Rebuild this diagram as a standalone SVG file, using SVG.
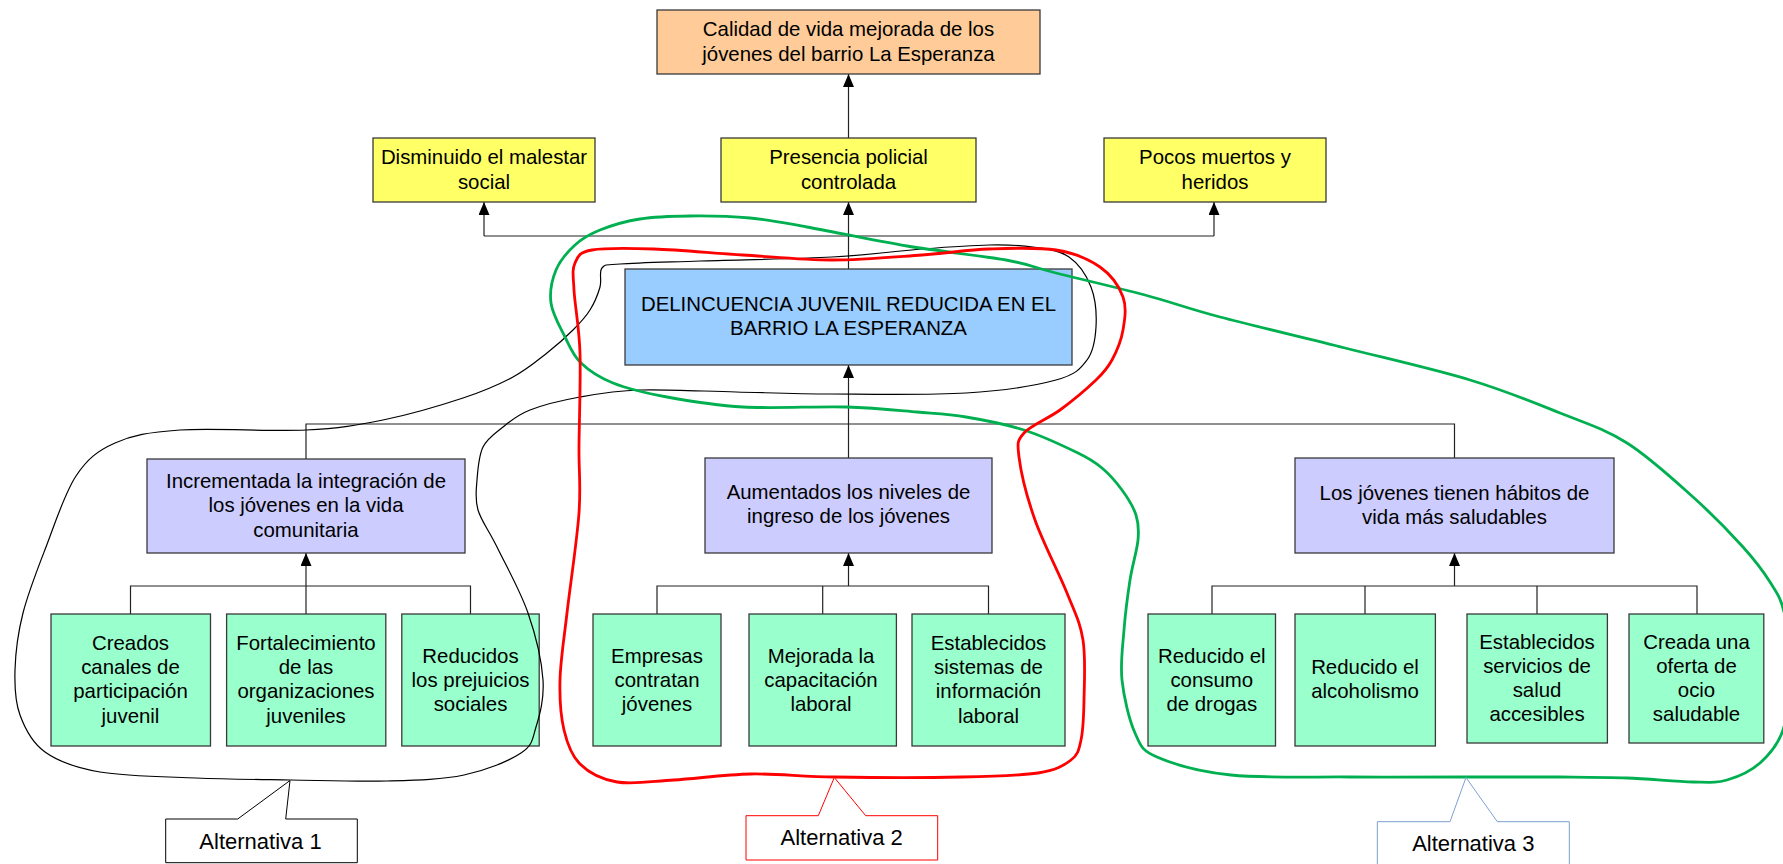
<svg xmlns="http://www.w3.org/2000/svg" width="1783" height="864" viewBox="0 0 1783 864">
  <defs>
    <marker id="arrow" viewBox="0 0 13 11" refX="13" refY="5.5" markerWidth="13" markerHeight="11" markerUnits="userSpaceOnUse" orient="auto">
      <path d="M0,0 L13,5.5 L0,11 Z" fill="#000"/>
    </marker>
    <style>
      text { font-family: "Liberation Sans", Arial, sans-serif; font-size: 20.4px; fill: #000; text-anchor: middle; }
      .box { stroke: #3a3a3a; stroke-width: 1.3; }
      .goal { fill: #FFCC99; }
      .fin { fill: #FFFF66; }
      .purpose { fill: #99CCFF; }
      .comp { fill: #CCCCFF; }
      .act { fill: #99FFCC; }
      .conn { fill: none; stroke: #222; stroke-width: 1.2; }
      .arr { marker-end: url(#arrow); }
      .loop { fill: none; stroke-linejoin: round; }
      .alt text { font-size: 22px; }
    </style>
  </defs>
  <rect width="1783" height="864" fill="#fff"/>

  <!-- connectors -->
  <g id="connectors">
    <path class="conn arr" d="M848.5,138 V74"/>
    <path class="conn" d="M848.5,269 V236 M484,236 H1214"/>
    <path class="conn arr" d="M484,236 V202"/>
    <path class="conn arr" d="M848.5,236 V202"/>
    <path class="conn arr" d="M1214,236 V202"/>
    <path class="conn" d="M306,459 V424 H1454.5 V458 M848.5,458 V424"/>
    <path class="conn arr" d="M848.5,424 V365"/>
    <path class="conn" d="M130.5,614 V586 H470.5 V614 M306,614 V586"/>
    <path class="conn arr" d="M306,586 V553"/>
    <path class="conn" d="M657,614 V586 H988.5 V614 M822.7,614 V586"/>
    <path class="conn arr" d="M848.5,586 V553"/>
    <path class="conn" d="M1212,614 V586 H1697 V614 M1365,614 V586 M1537,614 V586"/>
    <path class="conn arr" d="M1454.5,586 V553"/>
  </g>

  <!-- goal -->
  <g id="goal">
    <rect class="box goal" x="657" y="10" width="383" height="64"/>
    <text x="848.5" y="36">Calidad de vida mejorada de los</text>
    <text x="848.5" y="60.5">jóvenes del barrio La Esperanza</text>
  </g>

  <!-- ends -->
  <g id="end-malestar">
    <rect class="box fin" x="373" y="138" width="222" height="64"/>
    <text x="484" y="164">Disminuido el malestar</text>
    <text x="484" y="189">social</text>
  </g>
  <g id="end-policia">
    <rect class="box fin" x="721" y="138" width="255" height="64"/>
    <text x="848.5" y="164">Presencia policial</text>
    <text x="848.5" y="189">controlada</text>
  </g>
  <g id="end-muertos">
    <rect class="box fin" x="1104" y="138" width="222" height="64"/>
    <text x="1215" y="164">Pocos muertos y</text>
    <text x="1215" y="189">heridos</text>
  </g>

  <!-- purpose -->
  <g id="purpose">
    <rect class="box purpose" x="625" y="269" width="447" height="96"/>
    <text x="848.5" y="311">DELINCUENCIA JUVENIL REDUCIDA EN EL</text>
    <text x="848.5" y="335">BARRIO LA ESPERANZA</text>
  </g>

  <!-- components -->
  <g id="comp-integracion">
    <rect class="box comp" x="147" y="459" width="318" height="94"/>
    <text x="306" y="488">Incrementada la integración de</text>
    <text x="306" y="512">los jóvenes en la vida</text>
    <text x="306" y="536.5">comunitaria</text>
  </g>
  <g id="comp-ingreso">
    <rect class="box comp" x="705" y="458" width="287" height="95"/>
    <text x="848.5" y="499">Aumentados los niveles de</text>
    <text x="848.5" y="523">ingreso de los jóvenes</text>
  </g>
  <g id="comp-habitos">
    <rect class="box comp" x="1295" y="458" width="319" height="95"/>
    <text x="1454.5" y="500">Los jóvenes tienen hábitos de</text>
    <text x="1454.5" y="524">vida más saludables</text>
  </g>

  <!-- activities -->
  <g id="act-canales">
    <rect class="box act" x="51" y="614" width="159.5" height="132"/>
    <text x="130.5" y="650">Creados</text>
    <text x="130.5" y="674">canales de</text>
    <text x="130.5" y="698">participación</text>
    <text x="130.5" y="722.5">juvenil</text>
  </g>
  <g id="act-organizaciones">
    <rect class="box act" x="226.6" y="614" width="159.2" height="132"/>
    <text x="306" y="650">Fortalecimiento</text>
    <text x="306" y="674">de las</text>
    <text x="306" y="698">organizaciones</text>
    <text x="306" y="722.5">juveniles</text>
  </g>
  <g id="act-prejuicios">
    <rect class="box act" x="401.8" y="614" width="137.4" height="132"/>
    <text x="470.5" y="662.5">Reducidos</text>
    <text x="470.5" y="686.5">los prejuicios</text>
    <text x="470.5" y="710.5">sociales</text>
  </g>
  <g id="act-empresas">
    <rect class="box act" x="593" y="614" width="128" height="132"/>
    <text x="657" y="662.5">Empresas</text>
    <text x="657" y="686.5">contratan</text>
    <text x="657" y="710.5">jóvenes</text>
  </g>
  <g id="act-capacitacion">
    <rect class="box act" x="749" y="614" width="147.4" height="132"/>
    <text x="821" y="662.5">Mejorada la</text>
    <text x="821" y="686.5">capacitación</text>
    <text x="821" y="710.5">laboral</text>
  </g>
  <g id="act-informacion">
    <rect class="box act" x="912" y="614" width="153" height="132"/>
    <text x="988.5" y="650">Establecidos</text>
    <text x="988.5" y="674">sistemas de</text>
    <text x="988.5" y="698">información</text>
    <text x="988.5" y="722.5">laboral</text>
  </g>
  <g id="act-drogas">
    <rect class="box act" x="1148" y="614" width="127.5" height="132"/>
    <text x="1211.8" y="662.5">Reducido el</text>
    <text x="1211.8" y="686.5">consumo</text>
    <text x="1211.8" y="710.5">de drogas</text>
  </g>
  <g id="act-alcoholismo">
    <rect class="box act" x="1295" y="614" width="140.4" height="132"/>
    <text x="1365" y="674">Reducido el</text>
    <text x="1365" y="698">alcoholismo</text>
  </g>
  <g id="act-salud">
    <rect class="box act" x="1467" y="614" width="140.4" height="129"/>
    <text x="1537" y="648.5">Establecidos</text>
    <text x="1537" y="672.5">servicios de</text>
    <text x="1537" y="696.5">salud</text>
    <text x="1537" y="720.5">accesibles</text>
  </g>
  <g id="act-ocio">
    <rect class="box act" x="1629" y="614" width="134.8" height="129"/>
    <text x="1696.5" y="648.5">Creada una</text>
    <text x="1696.5" y="672.5">oferta de</text>
    <text x="1696.5" y="696.5">ocio</text>
    <text x="1696.5" y="720.5">saludable</text>
  </g>

  <!-- hand-drawn outlines grouping each alternative -->
  <g id="alternative-outlines">
    <path class="loop" stroke="#000" stroke-width="1.2" d="M291,780 C259.2,779.5 227.8,779.3 196,778 S125.2,776.3 100,772 S58.3,761.5 45,752 S25,728.7 20,715 S14.5,687 15,670 S17.8,633.5 23,613 S37.2,569.8 46,547 S64.5,493.3 76,476 S97.7,450.7 115,443 S148.2,432.2 180,430 S272.2,431.7 306,430 S356.8,425.3 383,420 S441.3,405.2 463,398 S499,384.5 513,377 S537,360.8 547,353 S565.8,337.2 573,330 S585.5,317.2 590,310 S598,294 600,287 S598.7,271.8 602,268 S603.7,265.2 620,264 S664.7,262.2 700,261 S795,259 832,257 S895.8,251 922,249 S970.5,245.3 989,245 S1019.7,245 1033,247 S1059.3,250.3 1069,257 S1086.5,275.3 1091,287 S1096.7,314.8 1096,327 S1093.7,351.2 1087,360 S1076.2,374.5 1056,380 S1003.3,390.7 966,393 S870.3,394.2 832,394 S768,392.7 736,392 S666,389.2 640,390 S598.3,393.7 580,397 S542.8,405 530,410 S510.8,420.8 503,427 S487.3,438.2 483,447 S477.8,469.5 477,480 S474.7,498.8 478,510 S488.7,529.8 497,547 S520.3,590.8 528,613 S541.7,661 543,680 S539.7,714.8 536,727 S533,745 521,753 S486.3,770.3 464,775 S415.8,780.2 387,781 S322.8,780.5 291,780 Z"/>
    <path class="loop" stroke="#00B050" stroke-width="2.8" d="M1466,777 C1501,777 1533.2,776.8 1560,777 S1604.8,777.2 1627,778 S1676.3,781.7 1693,782 S1715.8,783.2 1727,780 S1750.7,771.3 1760,763 S1777.8,745.5 1783,730 S1790.8,689.7 1791,670 S1787.5,626.7 1784,612 S1776.8,592.8 1770,582 S1755.8,561.2 1743,547 S1712.3,514.3 1693,497 S1649.2,457 1627,443 S1586.2,423.5 1560,413 S1505.8,390.8 1470,380 S1386.7,358.5 1345,348 S1253.3,325.8 1220,317 S1172.3,302.3 1145,295 S1079.2,278.8 1056,273 S1030.8,264.5 1006,260 S940.2,251.5 907,246 S833.2,231.7 807,227 S769.5,219.8 750,218 S708.3,215.8 690,216 S655,216.7 640,219 S610.8,225.7 600,230 S582.3,238.3 575,245 S560,260.3 556,270 S549.5,291.8 551,303 S560,327 565,337 S573,355.3 581,363 S598.7,377.3 613,383 S645.3,393 667,397 S713.2,405.3 743,407 S817,406.2 846,407 S897,410.3 917,412 S948.2,414 966,417 S1005.3,424 1024,430 S1065,446.7 1078,453 S1094.7,461.8 1102,468 S1116.3,482.2 1122,490 S1133.3,506.7 1136,515 S1139,529.2 1138,540 S1132.3,565 1130,580 S1125.3,613.3 1124,630 S1120.2,662.8 1122,680 S1129.2,720.2 1135,733 S1141,750 1157,757 S1198.8,771.7 1231,775 S1310.8,776.7 1350,777 S1431,777 1466,777 Z"/>
    <path class="loop" stroke="#FF0000" stroke-width="2.8" d="M835,777 C870,777.5 927.2,777.7 961,777 S1019.7,775.8 1038,773 S1063.8,765.5 1071,760 S1078.8,750 1081,740 S1083.7,716.7 1084,700 S1085.8,657.8 1083,640 S1075,613 1067,593 S1043,542.7 1035,520 S1020.8,471.5 1019,457 S1017.2,440.8 1024,433 S1048,418.8 1060,410 S1087.3,388.3 1096,380 S1107.5,368.3 1112,360 S1121.2,340.5 1123,330 S1126.8,307.5 1123,297 S1111.2,274.8 1100,267 S1074.5,253 1056,250 S1011.3,248.2 989,249 S948.2,253.2 922,255 S861.8,260 832,260 S772.7,256.8 743,255 S679.2,249.8 654,249 S605.2,247.7 592,250 S578,256.3 575,263 S573.2,275 574,290 S579.2,326.8 580,353 S579.2,420.3 579,447 S581,485.3 579,513 S570.2,585.2 567,613 S560.5,660.5 560,680 S560.7,716 564,730 S571.2,755.3 580,764 S601.3,779.3 617,782 S651.7,781.3 674,780 S724.2,774.5 751,774 S800,776.5 835,777 Z"/>
  </g>

  <!-- alternative labels -->
  <g id="alt-1" class="alt">
    <path d="M165.7,819 L237.7,819 L290,780.5 L285.7,819 L357.3,819 L357.3,862.7 L165.7,862.7 Z" fill="#fff" stroke="#000" stroke-width="1"/>
    <text x="260.5" y="848.5">Alternativa 1</text>
  </g>
  <g id="alt-2" class="alt">
    <path d="M746,815.7 L818.3,815.7 L834.3,777.5 L865.7,815.7 L937.7,815.7 L937.7,860 L746,860 Z" fill="#fff" stroke="#FF0000" stroke-width="1"/>
    <text x="841.7" y="845">Alternativa 2</text>
  </g>
  <g id="alt-3" class="alt">
    <path d="M1377.3,821.7 L1450,821.7 L1466,777.5 L1497.3,821.7 L1569.3,821.7 L1569.3,872 L1377.3,872 Z" fill="#fff" stroke="#7EA0D2" stroke-width="1"/>
    <text x="1473.3" y="850.7">Alternativa 3</text>
  </g>
</svg>
